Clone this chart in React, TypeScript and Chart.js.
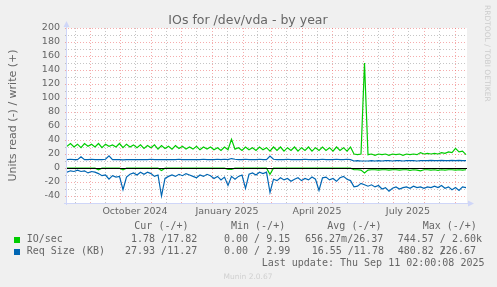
import React, { useEffect, useRef } from 'react';
import { Chart, registerables } from 'chart.js';

Chart.register(...registerables);

// ---------- data (one sample every 3.5 days, day 0 = 9 Aug 2024) ----------
const DAY_STEP = 3.5;

const ioWrite = [
  31, 35, 30, 34, 29, 35, 31, 34, 30, 35, 29, 34, 31, 33, 30, 35, 29, 34, 30, 33, 29,
  33, 28, 32, 29, 33, 27, 32, 28, 31, 27, 32, 28, 31, 27, 30, 27, 31, 26, 30, 27,
  30, 26, 29, 25, 30, 26, 41, 27, 29, 25, 30, 26, 29, 25, 30, 26,
  29, 24, 30, 25, 30, 24, 29, 25, 30, 24, 29, 25, 30, 24, 29, 25, 30, 25, 29, 24, 30, 25, 29, 24, 30,
  20, 19, 20, 150,
  19, 20, 18, 20, 19, 20, 18, 20, 19, 20, 18, 20, 19, 20, 19, 22, 20, 21, 20, 21, 20, 22, 21, 23, 22, 28, 23, 24, 19,
];

const ioRead = [
  -0.3, -0.3, -0.3, -0.3, -0.3, -0.3, -0.3, -0.3, -0.3,
  -2.5,
  -0.3, -0.3, -0.3, -0.3, -0.3, -0.3,
  -2.5,
  -0.3, -0.3, -0.3, -0.3, -0.3, -0.3, -0.3, -0.3, -0.3, -0.3,
  -3.5,
  -0.3, -0.3, -0.3, -0.3, -0.3, -0.3, -0.3, -0.3, -0.3, -0.3, -0.3, -0.3, -0.3, -0.3, -0.3, -0.3, -0.3, -0.3,
  -2, -2,
  -0.3, -0.3, -0.3, -0.3, -0.3, -0.3, -0.3, -0.3, -0.3, -0.3,
  -9,
  -0.3, -0.3, -0.3, -0.3, -0.3, -0.3, -0.3, -0.3, -0.3, -0.3, -0.3, -0.3, -0.3, -0.3, -0.3, -0.3, -0.3, -0.3, -0.3, -0.3, -0.3, -0.3, -0.3,
  -2.5, -2.5, -3, -7, -3, -2.5, -2.5, -3, -2.5, -2.5, -3, -2.5, -2.5, -3, -2.5, -2.5, -3.5, -2.5, -3, -4, -2.5, -2.5, -3, -2.5, -3.5, -2.5, -3, -2.5, -2.5, -3, -2.5, -3, -2.5,
];

const sizeWrite = [
  12, 12.5, 12, 12, 16, 12, 12, 12.5, 12, 12, 12, 12.5,
  17.5,
  12, 12, 12, 11.5, 12, 12, 12, 12, 12, 12, 12, 12.5, 12, 12, 12, 12, 12,
  12, 12, 12.5, 12, 12, 12, 12, 12, 12, 12.5, 12, 12, 12, 12.5, 12, 12.5, 12,
  13.5,
  12.5, 12, 12, 12.5, 12, 12, 12, 12.5, 12, 12,
  17,
  12.5, 12, 12, 12, 12.5, 12, 12, 12, 12, 12.5, 12, 12, 12, 12, 12.5, 12, 12, 12, 12.5, 12, 12, 12.5, 12,
  10, 10.5, 10, 10, 10, 10.5, 10, 10.5, 10, 10.5, 10.5, 10, 10.5, 10.5, 10, 10.5, 10.5, 10.5, 10, 10.5, 10.5, 10.5, 11, 10.5, 10.5, 11, 10.5, 10.5, 11, 10.5, 11, 10.5, 10.5,
];

const sizeRead = [
  -6, -4, -5, -3, -5, -4, -7, -5, -6, -8, -11, -10, -16, -11, -13, -12, -31, -13, -9, -7, -10, -6, -9, -6, -8, -12, -10, -40, -15, -12,
  -10, -12, -9, -11, -8, -10, -12, -14, -10, -12, -9, -11, -15, -12, -17, -13, -25, -12, -16, -12, -10, -29, -9, -7, -10, -6, -8, -6,
  -35, -16, -18, -14, -17, -15, -19, -16, -14, -18, -15, -17, -13, -16, -32, -14, -13, -17, -15, -19, -14, -12, -16, -18,
  -27, -26, -22, -24, -26, -24, -27, -25, -30, -28, -33, -29, -27, -30, -28, -27, -29, -26, -28, -27, -29, -27, -28, -26, -28, -25, -29, -27, -31, -28, -32, -27, -28,
];

const days = ioWrite.map((_, i) => i * DAY_STEP);

// axis ticks (days since 9 Aug 2024)
const monthStartDays = [23, 53, 84, 114, 145, 176, 204, 235, 265, 296, 326, 357, 388];
const midMonthDays = [8, 38, 68, 99, 129, 160, 190, 219, 250, 280, 311, 341, 372];
const xLabelDays = [68, 160, 250, 341];
const xLabels = ['October 2024', 'January 2025', 'April 2025', 'July 2025'];
const yLabelTicks = [-40, -20, 0, 20, 40, 60, 80, 100, 120, 140, 160, 180, 200];
const yMinorTicks = [-30, -10, 10, 30, 50, 70, 90, 110, 130, 150, 170, 190];

// legend text
const titleText = 'IOs for /dev/vda - by year';
const yTitle = 'Units read (-) / write (+)';
const legendHeader = ['Cur (-/+)', 'Min (-/+)', 'Avg (-/+)', 'Max (-/+)'];
const seriesNames = ['IO/sec', 'Req Size (KB)'];
const ioStats = ['1.78 /17.82', '0.00 / 9.15', '656.27m/26.37', '744.57 / 2.60k'];
const sizeStats = ['27.93 /11.27', '0.00 / 2.99', '16.55 /11.78', '480.82 /', '226.67'];
const lastUpdate = 'Last update: Thu Sep 11 02:00:08 2025';
const watermark = 'RRDTOOL / TOBI OETIKER';
const version = 'Munin 2.0.67';

const SANS = "'DejaVu Sans', 'Liberation Sans', sans-serif";
const MONO = "'DejaVu Sans Mono', 'Liberation Mono', monospace";
const FONT_COLOR = '#666666';
const GREEN = '#00CC00';
const BLUE = '#0066B3';
const AXIS = '#CFD6F8';

const muninPlugin = {
  id: 'muninDecor',
  beforeDraw(chart: any) {
    const { ctx, chartArea: a } = chart;
    ctx.save();
    ctx.fillStyle = '#F0F0F0';
    ctx.fillRect(0, 0, chart.width, chart.height);
    ctx.fillStyle = '#FFFFFF';
    ctx.fillRect(a.left, a.top, a.right - a.left, a.bottom - a.top);
    ctx.restore();
  },
  beforeDatasetsDraw(chart: any) {
    const { ctx, chartArea: a } = chart;
    const xs = chart.scales.x;
    const ys = chart.scales.y;
    ctx.save();
    ctx.lineWidth = 1;
    ctx.setLineDash([1, 2]);
    const vline = (d: number, color: string) => {
      const px = Math.round(xs.getPixelForValue(d)) + 0.5;
      ctx.strokeStyle = color;
      ctx.beginPath();
      ctx.moveTo(px, a.top);
      ctx.lineTo(px, a.bottom + 2);
      ctx.stroke();
    };
    const hline = (v: number, color: string) => {
      const py = Math.round(ys.getPixelForValue(v)) + 0.5;
      ctx.strokeStyle = color;
      ctx.beginPath();
      ctx.moveTo(a.left - 2, py);
      ctx.lineTo(a.right, py);
      ctx.stroke();
    };
    const minor = 'rgba(140,140,140,0.5)';
    const major = 'rgba(235,90,90,0.5)';
    midMonthDays.forEach((d) => vline(d, minor));
    yMinorTicks.forEach((v) => hline(v, minor));
    monthStartDays.forEach((d) => vline(d, major));
    yLabelTicks.forEach((v) => hline(v, major));
    ctx.restore();
  },
  afterDatasetsDraw(chart: any) {
    const { ctx, chartArea: a } = chart;
    const ys = chart.scales.y;
    ctx.save();
    // zero rule
    const y0 = Math.round(ys.getPixelForValue(0)) + 0.5;
    ctx.strokeStyle = '#000000';
    ctx.lineWidth = 1.2;
    ctx.beginPath();
    ctx.moveTo(a.left, y0);
    ctx.lineTo(a.right, y0);
    ctx.stroke();
    // axes
    ctx.strokeStyle = AXIS;
    ctx.fillStyle = AXIS;
    ctx.lineWidth = 1;
    ctx.beginPath();
    ctx.moveTo(a.left - 0.5, a.bottom + 2);
    ctx.lineTo(a.left - 0.5, a.top - 3);
    ctx.moveTo(a.left - 3, a.bottom + 0.5);
    ctx.lineTo(a.right + 3, a.bottom + 0.5);
    ctx.stroke();
    ctx.beginPath();
    ctx.moveTo(a.left - 0.5, a.top - 7);
    ctx.lineTo(a.left - 3.5, a.top - 1);
    ctx.lineTo(a.left + 2.5, a.top - 1);
    ctx.closePath();
    ctx.fill();
    ctx.beginPath();
    ctx.moveTo(a.right + 7, a.bottom + 0.5);
    ctx.lineTo(a.right + 1, a.bottom - 2.5);
    ctx.lineTo(a.right + 1, a.bottom + 3.5);
    ctx.closePath();
    ctx.fill();
    ctx.restore();
  },
  afterDraw(chart: any) {
    const { ctx, chartArea: a } = chart;
    ctx.save();
    ctx.fillStyle = FONT_COLOR;
    // title
    ctx.font = `12.5px ${SANS}`;
    ctx.textAlign = 'center';
    ctx.textBaseline = 'alphabetic';
    ctx.fillText(titleText, 248, 23.5);
    // y title
    ctx.save();
    ctx.font = `11px ${SANS}`;
    ctx.translate(15.5, (a.top + a.bottom) / 2);
    ctx.rotate(-Math.PI / 2);
    ctx.textAlign = 'center';
    ctx.fillText(yTitle, 0, 0);
    ctx.restore();
    // watermark
    ctx.save();
    ctx.font = `7.5px ${SANS}`;
    ctx.fillStyle = '#CCCCCC';
    ctx.translate(485, 5);
    ctx.rotate(Math.PI / 2);
    ctx.textAlign = 'left';
    ctx.fillText(watermark, 0, 0);
    ctx.restore();
    // legend
    ctx.font = `10px ${MONO}`;
    ctx.textAlign = 'left';
    ctx.textBaseline = 'middle';
    const hx = [134.3, 231, 327.3, 422.7];
    legendHeader.forEach((t, i) => ctx.fillText(t, hx[i], 226.7));
    ctx.fillStyle = GREEN;
    ctx.fillRect(14, 237, 6, 6);
    ctx.fillStyle = BLUE;
    ctx.fillRect(14, 249, 6, 6);
    ctx.fillStyle = FONT_COLOR;
    ctx.fillText(seriesNames[0], 26.7, 239.3);
    ctx.fillText(seriesNames[1], 26.7, 251.7);
    const r1 = [131, 224, 305, 397.7];
    ioStats.forEach((t, i) => ctx.fillText(t, r1[i], 239.3));
    const r2 = [125, 224, 311.7, 397.7, 439.8];
    sizeStats.forEach((t, i) => ctx.fillText(t, r2[i], 251.7));
    ctx.fillText(lastUpdate, 261.7, 263.3);
    // version
    ctx.font = `7.5px ${SANS}`;
    ctx.fillStyle = '#D0D0D0';
    ctx.textAlign = 'center';
    ctx.fillText(version, 248, 276.7);
    ctx.restore();
  },
};

const toPoints = (vals: number[]) => vals.map((v, i) => ({ x: days[i], y: v }));

export default function App() {
  const ref = useRef<HTMLCanvasElement | null>(null);
  useEffect(() => {
    if (!ref.current) return;
    const chart = new Chart(ref.current, {
      type: 'line',
      data: {
        datasets: [
          { label: 'Req Size read', data: toPoints(sizeRead), borderColor: BLUE },
          { label: 'Req Size write', data: toPoints(sizeWrite), borderColor: BLUE },
          { label: 'IO/sec read', data: toPoints(ioRead), borderColor: GREEN },
          { label: 'IO/sec write', data: toPoints(ioWrite), borderColor: GREEN },
        ],
      },
      options: {
        responsive: false,
        animation: false,
        events: [],
        layout: { padding: { top: 28, right: 30, left: 0, bottom: 0 } },
        elements: {
          point: { radius: 0 },
          line: { borderWidth: 1.2, tension: 0, fill: false },
        },
        plugins: {
          legend: { display: false },
          tooltip: { enabled: false },
          title: { display: false },
        },
        scales: {
          x: {
            type: 'linear',
            min: 0,
            max: 400,
            grid: { display: false, drawTicks: false },
            border: { display: false },
            afterBuildTicks: (s: any) => {
              s.ticks = xLabelDays.map((v) => ({ value: v }));
            },
            afterFit: (s: any) => {
              s.height = 84;
            },
            ticks: {
              autoSkip: false,
              maxRotation: 0,
              minRotation: 0,
              padding: 3,
              color: FONT_COLOR,
              font: { family: SANS, size: 9.5 },
              callback: (v: any) => {
                const i = xLabelDays.indexOf(Number(v));
                return i >= 0 ? xLabels[i] : '';
              },
            },
          },
          y: {
            type: 'linear',
            min: -50,
            max: 200,
            grid: { display: false, drawTicks: false },
            border: { display: false },
            afterBuildTicks: (s: any) => {
              s.ticks = yLabelTicks.map((v) => ({ value: v }));
            },
            afterFit: (s: any) => {
              s.width = 67;
            },
            ticks: {
              padding: 7,
              color: FONT_COLOR,
              font: { family: SANS, size: 9.5 },
              callback: (v: any) => String(v),
            },
          },
        },
      } as any,
      plugins: [muninPlugin],
    });
    return () => chart.destroy();
  }, []);
  return (
    <div style={{ position: 'fixed', left: 0, top: 0, width: 497, height: 287, background: '#F0F0F0' }}>
      <canvas ref={ref} width={497} height={287} style={{ display: 'block', width: 497, height: 287 }} />
    </div>
  );
}
